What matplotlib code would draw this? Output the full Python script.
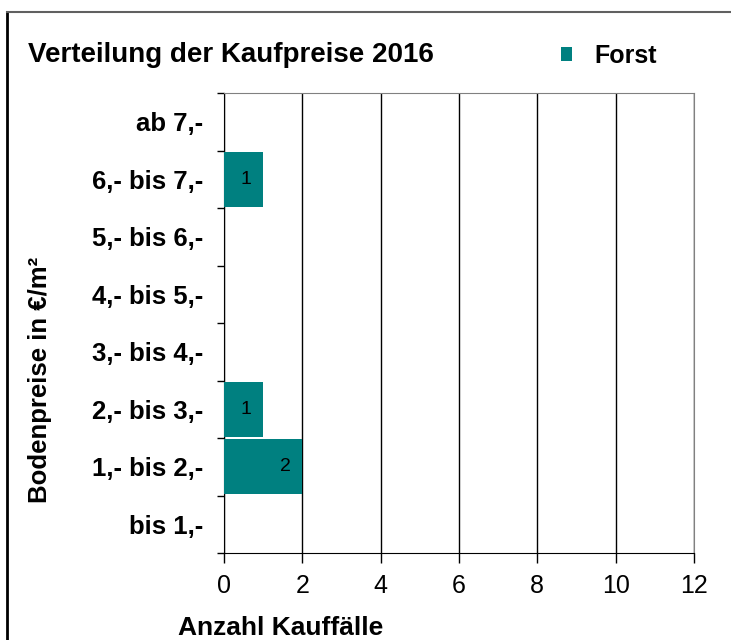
import matplotlib
matplotlib.use('Agg')
import matplotlib.pyplot as plt
from matplotlib.lines import Line2D

plt.rcParams['font.family'] = ['Liberation Sans', 'DejaVu Sans']

# Daten
kategorien = ['bis 1,-', '1,- bis 2,-', '2,- bis 3,-', '3,- bis 4,-',
              '4,- bis 5,-', '5,- bis 6,-', '6,- bis 7,-', 'ab 7,-']
forst = [0, 2, 1, 0, 0, 0, 1, 0]
x_ticks = [0, 2, 4, 6, 8, 10, 12]

TEAL = '#008080'

fig = plt.figure(figsize=(7.31, 6.4), dpi=100)
ax = fig.add_axes([224 / 731, 1 - 553 / 640, 470 / 731, 460 / 640])

pos = list(range(len(kategorien)))
bars = ax.barh(pos, forst, height=0.95, color=TEAL, label='Forst', zorder=3)
for y, v in zip(pos, forst):
    if v > 0:
        ax.text(v - 0.3, y, str(v), ha='right', va='center', fontsize=14, zorder=4)

ax.set_xlim(0, 12)
ax.set_ylim(-0.5, len(kategorien) - 0.5)
ax.set_xticks(x_ticks)
ax.set_xticklabels([str(t) for t in x_ticks], fontsize=18)
ax.tick_params(axis='x', direction='out', length=7, width=1, pad=8)

ax.set_yticks(pos)
ax.set_yticklabels(kategorien, fontsize=18.5, fontweight='bold')
ax.tick_params(axis='y', which='major', length=0, pad=15)
ax.set_yticks([p - 0.5 for p in pos] + [len(pos) - 0.5], minor=True)
ax.tick_params(axis='y', which='minor', direction='out', length=5, width=1)

ax.grid(axis='x', color='black', linewidth=1, zorder=1)
ax.spines['left'].set_color('black')
ax.spines['bottom'].set_color('black')
ax.spines['top'].set_color('#808080')
ax.spines['right'].set_color('#808080')

fig.text(28 / 731, 1 - 55 / 640, 'Verteilung der Kaufpreise 2016', fontsize=20,
         fontweight='bold', va='center', ha='left')
fig.text(178 / 731, 1 - 628 / 640, 'Anzahl Kauffälle', fontsize=19,
         fontweight='bold', va='center', ha='left')
fig.text(40 / 731, 1 - 380 / 640, 'Bodenpreise in €/m²', fontsize=18.5,
         fontweight='bold', va='center', ha='center', rotation=90)

fig.legend(handles=[bars], labels=['Forst'], loc='center left',
           bbox_to_anchor=(538 / 731, 1 - 56 / 640), frameon=False,
           handlelength=0.45, handleheight=0.45, handletextpad=0.9,
           prop={'size': 18, 'weight': 'bold'})

# Rahmen
fig.add_artist(Line2D([7 / 731, 7 / 731], [0, 1 - 12 / 640], color='black', linewidth=2))
fig.add_artist(Line2D([7 / 731, 1], [1 - 12 / 640, 1 - 12 / 640], color='#606060', linewidth=1.5))

fig.savefig('out.png', dpi=100)
